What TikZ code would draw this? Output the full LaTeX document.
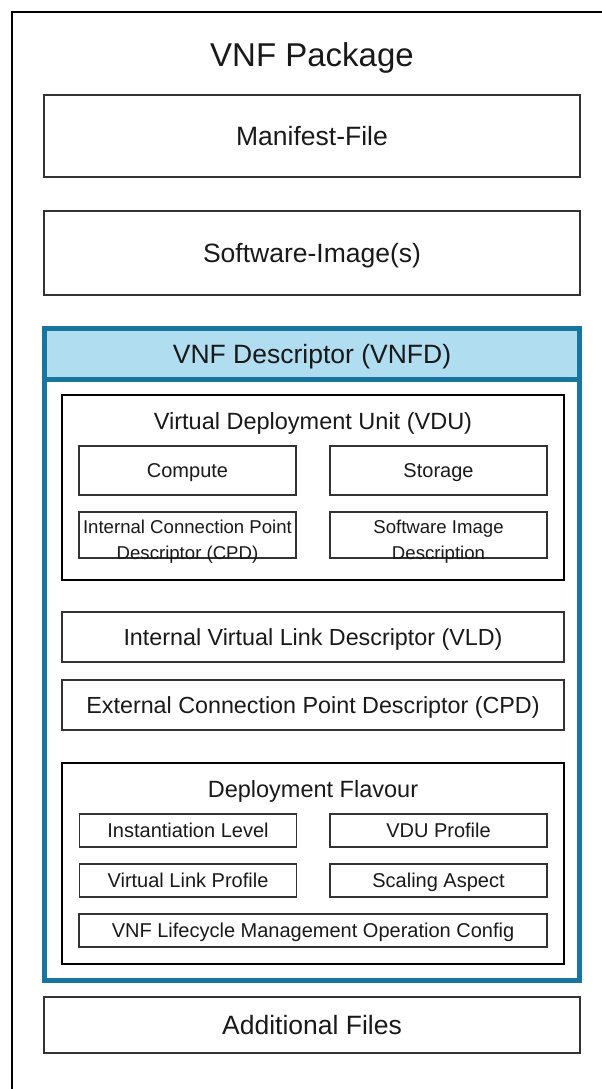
\documentclass[tikz,border=0pt]{standalone}
\usepackage{fontspec}
\setmainfont{Liberation Sans}
\definecolor{vnfdblue}{RGB}{24,117,160}
\definecolor{vnfdlight}{RGB}{177,221,240}

\begin{document}
\begin{tikzpicture}[x=1pt, y=-1pt,
	every node/.style={inner sep=0pt, text=black!90, align=center},
	oneline/.style={text height=#1, text depth=0pt},
	bigbox/.style={draw=black!80, line width=1.3pt, minimum width=536pt, oneline=19.1pt, font=\fontsize{26.5}{32}\selectfont},
	thickbox/.style={draw=black, line width=2.8pt, minimum width=502pt},
	widebox/.style={draw=black!80, line width=1.3pt, minimum width=502pt, minimum height=50pt, oneline=16.8pt, font=\fontsize{23.3}{28}\selectfont},
	halfbox/.style={draw=black!80, line width=1.3pt, minimum width=217pt, minimum height=49pt, oneline=14.4pt, font=\fontsize{20}{24}\selectfont},
	smallbox/.style={draw=black!80, line width=1.3pt, minimum width=217pt, minimum height=33pt, oneline=14.4pt, font=\fontsize{20}{24}\selectfont},
	twoline/.style={anchor=north, font=\fontsize{18.6}{26}\selectfont},
	sectitle/.style={anchor=base, font=\fontsize{23.5}{28}\selectfont},
]
\useasboundingbox (0,0) rectangle (602,1089);
\clip (0,0) rectangle (602,1089);

% Outer package frame (runs off the page on the right and bottom)
\node[draw=black, line width=2pt, minimum width=620pt, minimum height=1100pt, anchor=north west] (package) at (11,11) {};
\node[anchor=base, font=\fontsize{33}{40}\selectfont] (pkgtitle) at (312,67) {VNF Package};

\node[bigbox, minimum height=82pt] (manifest) at (312,136) {Manifest-File};
\node[bigbox, minimum height=84pt] (swimage) at (312,253) {Software-Image(s)};

% VNF descriptor
\node[draw=vnfdblue, line width=5pt, minimum width=535pt, minimum height=652pt] (vnfd) at (312,654.5) {};
\node[draw=vnfdblue, fill=vnfdlight, line width=5pt, minimum width=535pt, minimum height=50.5pt,
	anchor=north, oneline=19.1pt, font=\fontsize{26.5}{32}\selectfont] (vnfdhead) at (vnfd.north) {VNF Descriptor (VNFD)};

% Virtual deployment unit
\node[thickbox, minimum height=185pt] (vdu) at (313,487.5) {};
\node[sectitle] (vdutitle) at (313,429) {Virtual Deployment Unit (VDU)};
\node[halfbox] (compute) at (187.5,470.5) {Compute};
\node[halfbox] (storage) at (438.5,470.5) {Storage};
\node[halfbox, minimum height=46pt] (intcpd) at (187.5,535) {};
\node[halfbox, minimum height=46pt] (swdesc) at (438.5,535) {};
\node[twoline] (intcpdtext) at (187.5,520) {Internal Connection Point\\Descriptor (CPD)};
\node[twoline] (swdesctext) at (438.5,520) {Software Image\\Description};

\node[widebox] (vld) at (313,637) {Internal Virtual Link Descriptor (VLD)};
\node[widebox] (extcpd) at (313,705) {External Connection Point Descriptor (CPD)};

% Deployment flavour
\node[thickbox, minimum height=201pt] (df) at (313,863.5) {};
\node[sectitle] (dftitle) at (313,797) {Deployment Flavour};
\node[smallbox] (instlevel) at (188,830.5) {Instantiation Level};
\node[smallbox] (vduprofile) at (438.5,830.5) {VDU Profile};
\node[smallbox] (vlprofile) at (188,880.5) {Virtual Link Profile};
\node[smallbox] (scaling) at (438.5,880.5) {Scaling Aspect};
\node[smallbox, minimum width=468pt] (lcmconfig) at (313,930.5) {VNF Lifecycle Management Operation Config};

\node[bigbox, minimum height=56pt] (addfiles) at (312,1025) {Additional Files};
\end{tikzpicture}
\end{document}
